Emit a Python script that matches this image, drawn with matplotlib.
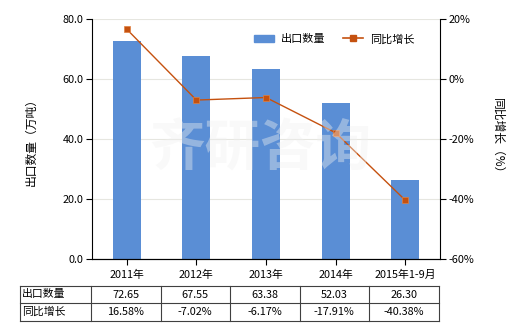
import numpy as np
import matplotlib
matplotlib.use("Agg")
import matplotlib.pyplot as plt
from matplotlib.lines import Line2D

plt.rcParams['font.family'] = ['Noto Sans CJK SC', 'DejaVu Sans']

categories = ['2011年', '2012年', '2013年', '2014年', '2015年1-9月']
export_qty = [72.65, 67.55, 63.38, 52.03, 26.30]
yoy_growth = [16.58, -7.02, -6.17, -17.91, -40.38]
qty_labels = ['72.65', '67.55', '63.38', '52.03', '26.30']
growth_labels = ['16.58%', '-7.02%', '-6.17%', '-17.91%', '-40.38%']

W, H = 520, 330
fig = plt.figure(figsize=(W / 100, H / 100), dpi=100)

def fx(px):
    return px / W

def fy(py):
    return 1 - py / H

ax = fig.add_axes([fx(92), fy(259), fx(440) - fx(92), fy(19) - fy(259)])
ax2 = ax.twinx()

x = np.arange(len(categories))
bar_color = '#5a8ed5'
line_color = '#c5510f'

ax.bar(x, export_qty, 0.4, color=bar_color, zorder=2)
ax.set_xlim(-0.5, len(categories) - 0.5)
ax.set_ylim(0, 80)
ax.set_yticks(np.arange(0, 81, 20))
ax.set_yticklabels(['%.1f' % v for v in np.arange(0, 81, 20)], fontsize=7.8)
ax.set_xticks(x)
ax.set_xticklabels(categories, fontsize=7.8)
ax.yaxis.grid(True, color='#e6e6e0', linewidth=0.8, zorder=0)
ax.set_axisbelow(True)
ax.tick_params(axis='both', length=4, width=0.8, pad=2)
ax.tick_params(axis='x', pad=4)
for s in ['top', 'right']:
    ax.spines[s].set_visible(False)
ax.set_ylabel('出口数量（万吨）', fontsize=8.5, labelpad=18)

ax2.plot(x, yoy_growth, color=line_color, linewidth=1.0, marker='s',
         markersize=5, markerfacecolor=line_color, markeredgecolor='#e08040',
         markeredgewidth=0.5, zorder=4)
ax2.set_ylim(-60, 20)
ax2.set_yticks(np.arange(-60, 21, 20))
ax2.set_yticklabels(['%d%%' % v for v in np.arange(-60, 21, 20)], fontsize=7.8)
ax2.tick_params(axis='y', length=4, width=0.8, pad=2)
for s in ['top', 'left']:
    ax2.spines[s].set_visible(False)
ax2.set_ylabel('同比增长（%）', fontsize=8.5, rotation=-90, labelpad=22)

# watermark
fig.text(0.5, fy(150), '齐研咨询', fontsize=40, fontweight='bold',
         color='#f0f0f0', alpha=0.4, ha='center', va='center', zorder=10)

# legend
handles = [plt.Rectangle((0, 0), 1, 1, color=bar_color),
           Line2D([], [], color=line_color, marker='s', markersize=4, linewidth=1.2)]
ax2.legend(handles, ['出口数量', '同比增长'], loc='upper left',
           bbox_to_anchor=((244 - 92) / 348, (259 - 24) / 240), ncol=2,
           frameon=False, fontsize=8, handlelength=1.8, columnspacing=1.6,
           handletextpad=0.6)

# data table below the chart
col_edges = [20, 91] + [91 + 69.5 * (i + 1) for i in range(len(categories))]
row_edges = [286, 303, 321]
lc = '#404040'
for r in row_edges:
    fig.add_artist(Line2D([fx(col_edges[0]), fx(col_edges[-1])], [fy(r), fy(r)],
                          color=lc, linewidth=0.8))
for c in col_edges:
    fig.add_artist(Line2D([fx(c), fx(c)], [fy(row_edges[0]), fy(row_edges[-1])],
                          color=lc, linewidth=0.8))

row_names = ['出口数量', '同比增长']
for ri, (name, vals) in enumerate(zip(row_names, [qty_labels, growth_labels])):
    yc = fy((row_edges[ri] + row_edges[ri + 1]) / 2)
    fig.text(fx(col_edges[0] + 2), yc, name, fontsize=7.8, ha='left', va='center')
    for ci, v in enumerate(vals):
        xc = fx((col_edges[ci + 1] + col_edges[ci + 2]) / 2)
        fig.text(xc, yc, v, fontsize=7.8, ha='center', va='center')

fig.savefig('out.png', dpi=100)
